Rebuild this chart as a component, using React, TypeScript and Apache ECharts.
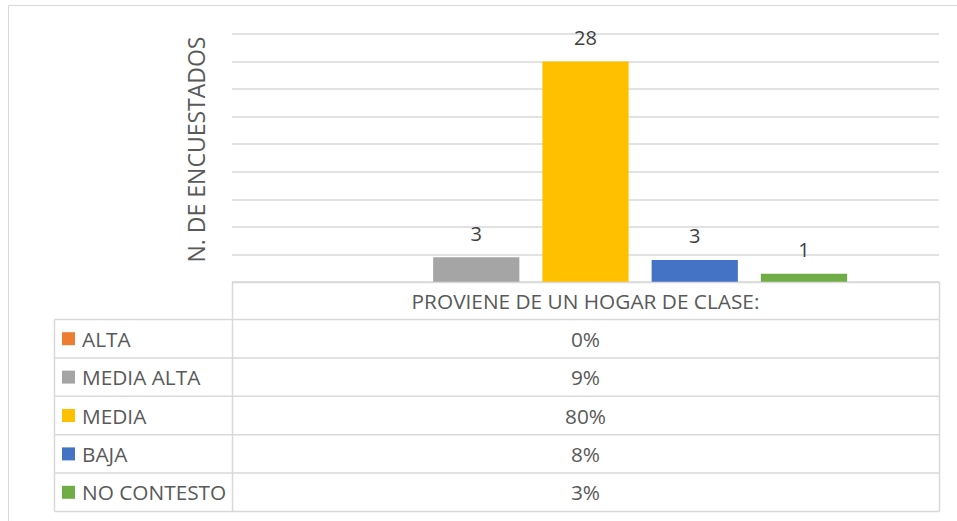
import React, { useEffect, useRef } from "react";
import * as echarts from "echarts";

const categories = ["PROVIENE DE UN HOGAR DE CLASE:"];
const seriesNames = ["ALTA", "MEDIA ALTA", "MEDIA", "BAJA", "NO CONTESTO"];
const percentages = [0, 9, 80, 8, 3];
const counts = [0, 3, 28, 3, 1];
const colors = ["#ED7D31", "#A5A5A5", "#FFC000", "#4472C4", "#70AD47"];
const axisTitle = "N. DE ENCUESTADOS";

const FONT = "'Open Sans', 'Noto Sans', sans-serif";

export default function App() {
  const ref = useRef<HTMLDivElement>(null);
  useEffect(() => {
    if (!ref.current) return;
    const chart = echarts.init(ref.current, undefined, { renderer: "svg" });

    const W = 957;
    const plotLeft = 232;
    const plotRight = 939;
    const tableTop = 282.5;
    const headerBottom = 319.5;
    const rowH = 38.4;
    const legendLeft = 54.5;
    const nRows = seriesNames.length;
    const tableBottom = headerBottom + rowH * nRows;
    const lineColor = "#d9d9d9";
    const textColor = "#595959";
    const tableFont = `20.8px ${FONT}`;

    const graphics: any[] = [];
    graphics.push({
      type: "rect",
      shape: { x: 8.5, y: 5.5, width: 1000, height: 600 },
      style: { fill: "none", stroke: lineColor, lineWidth: 1 },
      silent: true,
      z: 0,
    });
    graphics.push({
      type: "polyline",
      shape: { points: [[plotLeft + 0.5, headerBottom], [plotLeft + 0.5, tableTop], [plotRight + 0.5, tableTop], [plotRight + 0.5, headerBottom]] },
      style: { fill: "none", stroke: lineColor, lineWidth: 1.5 },
      silent: true,
      z: 10,
    });
    graphics.push({
      type: "text",
      x: (plotLeft + plotRight) / 2,
      y: (tableTop + headerBottom) / 2,
      style: { text: categories[0], fill: textColor, font: tableFont, align: "center", verticalAlign: "middle" },
      silent: true,
      z: 10,
    });
    for (let i = 0; i <= nRows; i++) {
      const y = headerBottom + rowH * i;
      graphics.push({
        type: "line",
        shape: { x1: legendLeft, y1: y, x2: plotRight + 0.5, y2: y },
        style: { stroke: lineColor, lineWidth: 1.5 },
        silent: true,
        z: 10,
      });
    }
    [legendLeft, plotLeft + 0.5, plotRight + 0.5].forEach((x) => {
      graphics.push({
        type: "line",
        shape: { x1: x, y1: headerBottom, x2: x, y2: tableBottom },
        style: { stroke: lineColor, lineWidth: 1.5 },
        silent: true,
        z: 10,
      });
    });
    seriesNames.forEach((name, i) => {
      const cy = headerBottom + rowH * i + rowH / 2;
      graphics.push({
        type: "rect",
        shape: { x: 62, y: cy - 6.5, width: 13, height: 13 },
        style: { fill: colors[i] },
        silent: true,
        z: 10,
      });
      graphics.push({
        type: "text",
        x: 82,
        y: cy,
        style: { text: name, fill: textColor, font: tableFont, align: "left", verticalAlign: "middle" },
        silent: true,
        z: 10,
      });
      graphics.push({
        type: "text",
        x: (plotLeft + plotRight) / 2,
        y: cy,
        style: { text: `${percentages[i]}%`, fill: textColor, font: tableFont, align: "center", verticalAlign: "middle" },
        silent: true,
        z: 10,
      });
    });
    graphics.push({
      type: "text",
      x: 195.5,
      y: 149.5,
      rotation: Math.PI / 2,
      style: { text: axisTitle, fill: textColor, font: `23px ${FONT}`, align: "center", verticalAlign: "middle" },
      silent: true,
      z: 10,
    });

    chart.setOption({
      animation: false,
      grid: { left: plotLeft, right: W - plotRight, top: 34, bottom: 521 - 282, containLabel: false },
      xAxis: {
        type: "category",
        data: categories,
        axisLine: { show: false },
        axisTick: { show: false },
        axisLabel: { show: false },
      },
      yAxis: {
        type: "value",
        min: 0,
        max: 90,
        interval: 10,
        axisLine: { show: false },
        axisTick: { show: false },
        axisLabel: { show: false },
        splitLine: { show: true, lineStyle: { color: lineColor, width: 1.5 } },
      },
      series: seriesNames.map((name, i) => ({
        name,
        type: "bar",
        data: [percentages[i]],
        barGap: "26.7%",
        barCategoryGap: "26%",
        itemStyle: { color: colors[i] },
        label: {
          show: counts[i] > 0,
          position: "top",
          distance: 14,
          formatter: () => String(counts[i]),
          color: "#404040",
          fontSize: 20,
          fontFamily: FONT,
        },
      })),
      graphic: graphics,
    });
    return () => chart.dispose();
  }, []);
  return <div ref={ref} style={{ position: "fixed", left: 0, top: 0, width: 957, height: 521, background: "#fff" }} />;
}
